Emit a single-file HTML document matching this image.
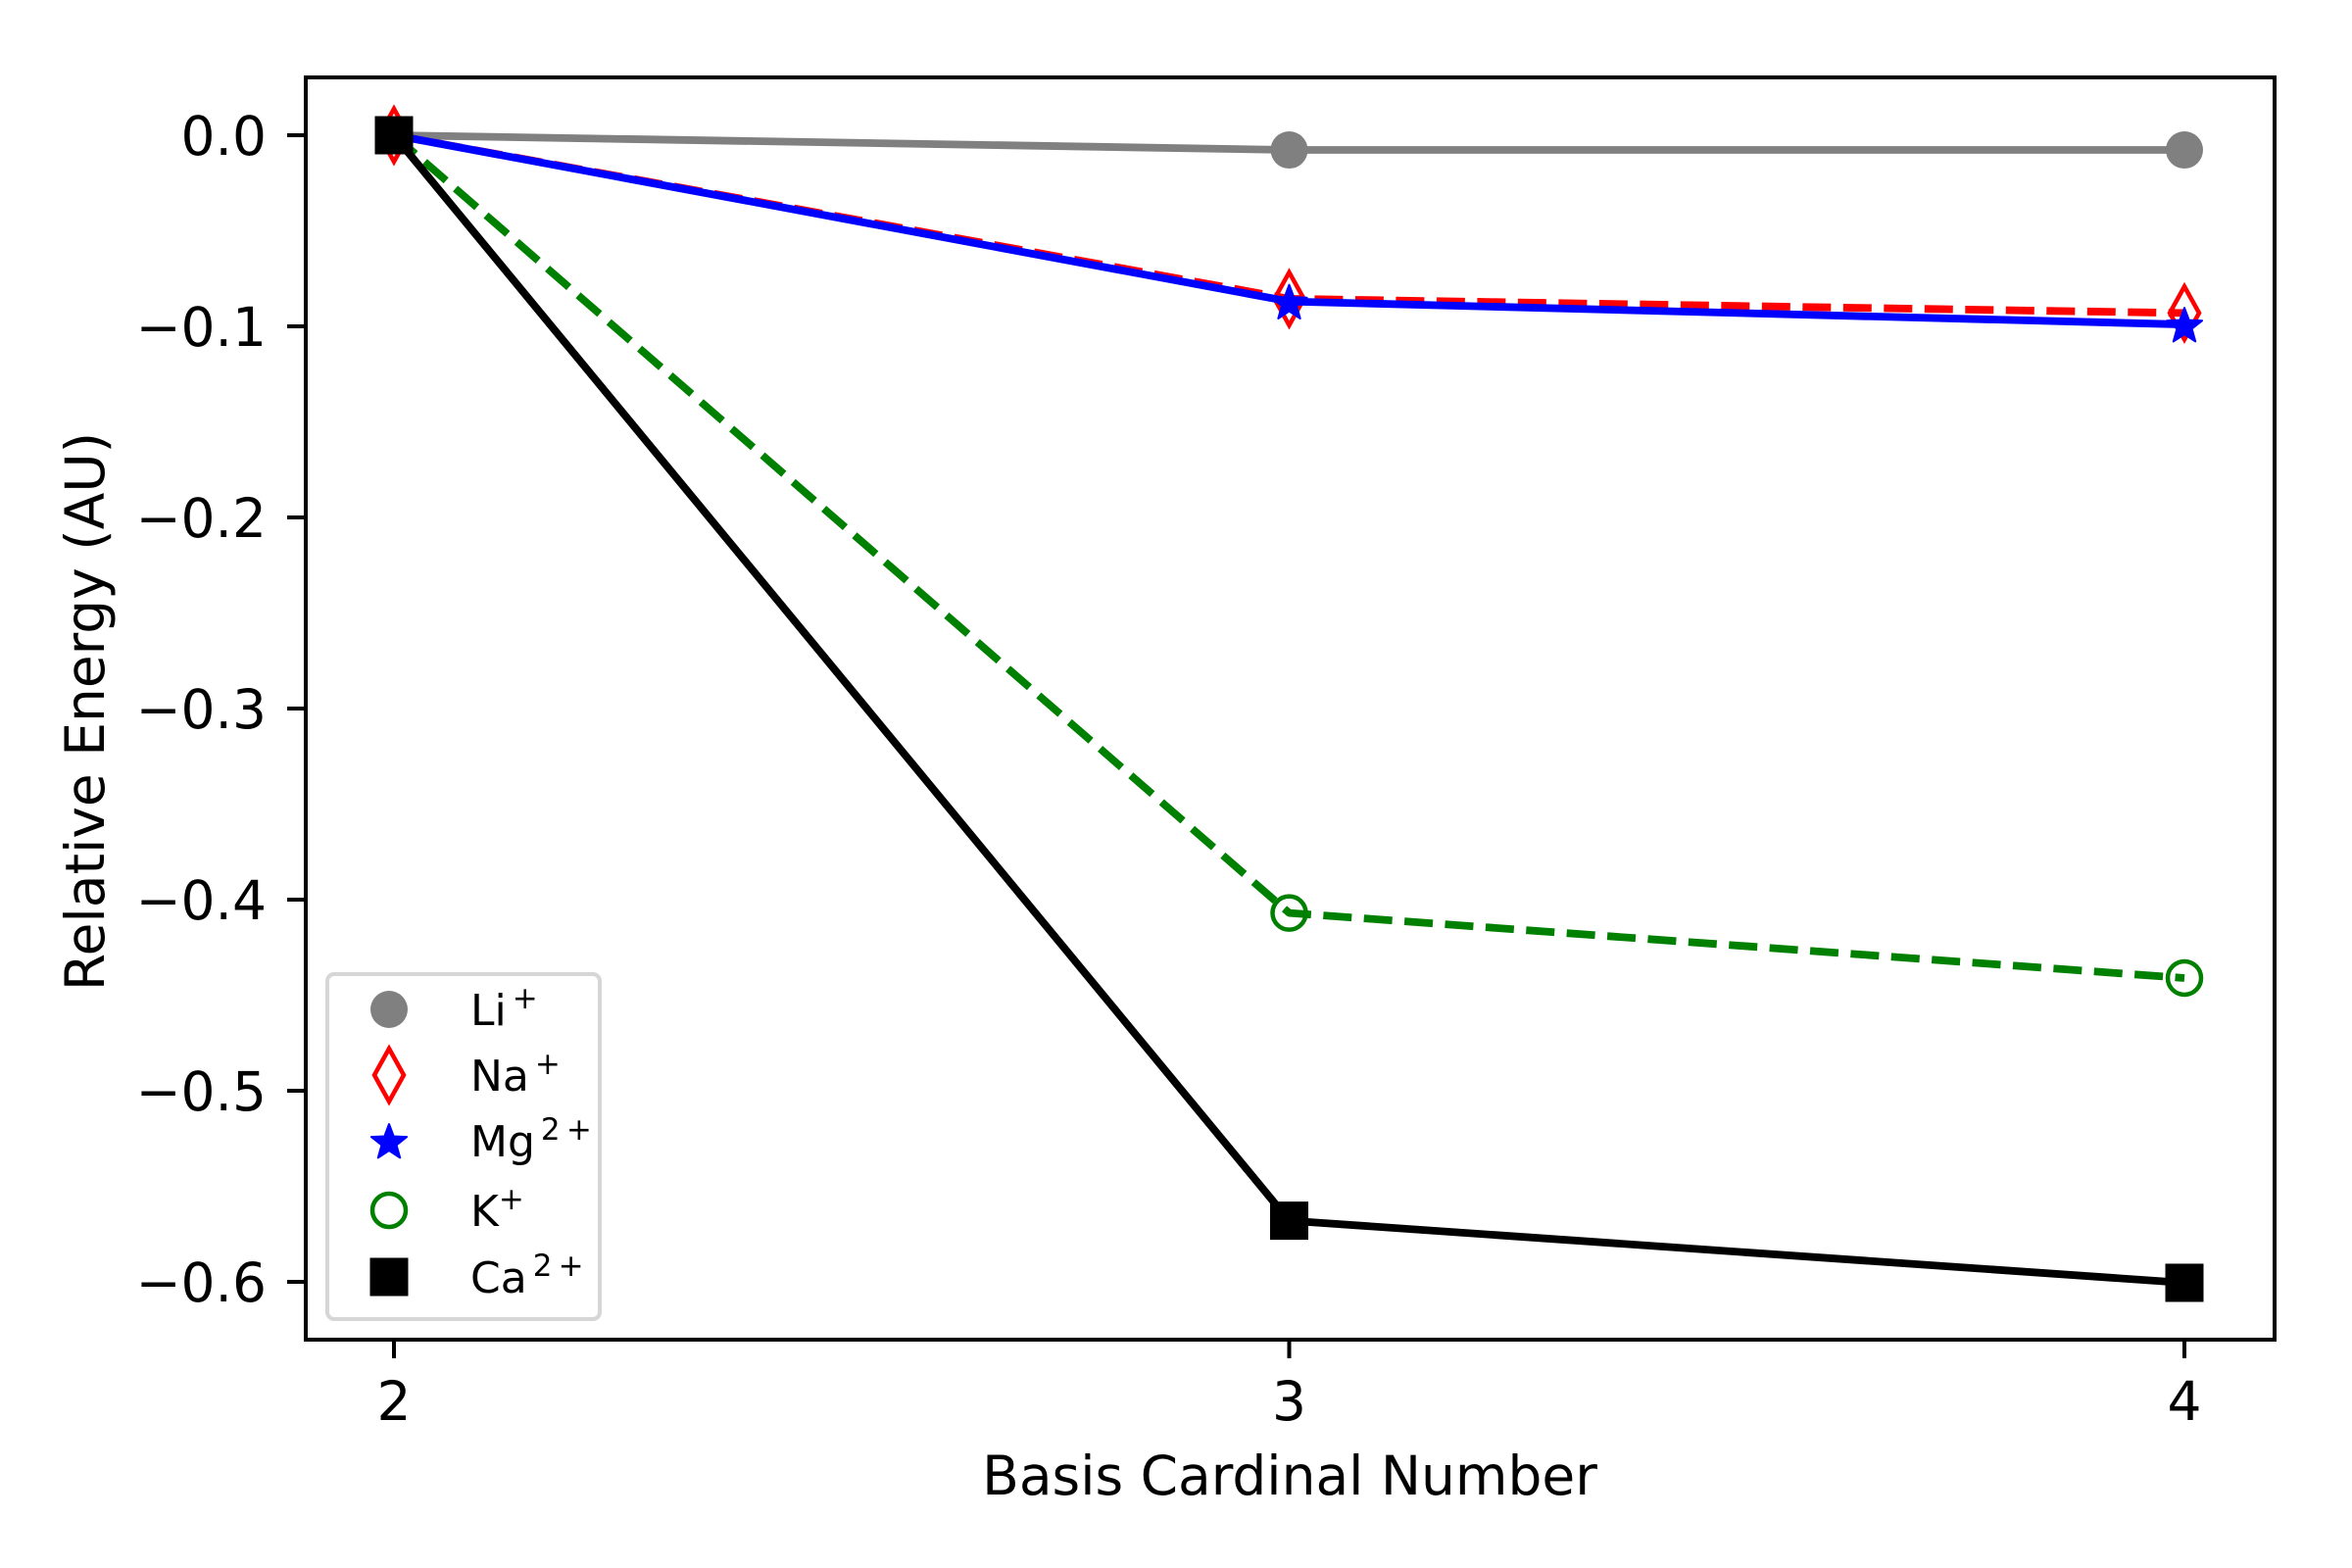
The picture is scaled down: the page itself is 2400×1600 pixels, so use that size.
<!DOCTYPE html>
<html><head><meta charset="utf-8"><style>
html,body{margin:0;padding:0;background:#fff}
svg{display:block}
text{font-family:"DejaVu Sans","Liberation Sans",sans-serif}
</style></head><body>
<svg id="chart" width="2400" height="1600" viewBox="0 0 2400 1600" xmlns="http://www.w3.org/2000/svg">
<rect width="2400" height="1600" fill="#fff"/>
<g id="plot"></g>
<g id="axes"></g>
<g id="legend"></g>
</svg>
<script>
const categories = [2, 3, 4];
const xTicks = [2, 3, 4];
const yTicks = [0.0, -0.1, -0.2, -0.3, -0.4, -0.5, -0.6];
const yTickLabels = ["0.0", "\u22120.1", "\u22120.2", "\u22120.3", "\u22120.4", "\u22120.5", "\u22120.6"];
const liValues = [0, -0.0077, -0.0077];
const naValues = [0, -0.0856, -0.093];
const mgValues = [0, -0.087, -0.099];
const kValues = [0, -0.407, -0.441];
const caValues = [0, -0.568, -0.6005];
const seriesNames = ["Li", "Na", "Mg", "K", "Ca"];
const seriesSups = ["+", "+", "2\u2009+", "+", "2\u2009+"];

const NS = "http://www.w3.org/2000/svg";
const L = 312, R = 2321, T = 79, B = 1367;
function xScale(v){ return 402 + (v - 2) * 913.5; }
function yScale(v){ return 138 - v * 1950; }
function mk(tag, attrs, parent){
  const e = document.createElementNS(NS, tag);
  for (const k in attrs) e.setAttribute(k, attrs[k]);
  parent.appendChild(e);
  return e;
}
const plot = document.getElementById('plot');
const axes = document.getElementById('axes');
const legend = document.getElementById('legend');

const styles = [
  {color:'#808080', dash:null, marker:'circle'},
  {color:'#ff0000', dash:'29 12.5', marker:'thin_diamond'},
  {color:'#0000ff', dash:null, marker:'star'},
  {color:'#008000', dash:'29 12.5', marker:'open_circle'},
  {color:'#000000', dash:null, marker:'square'}
];
const allValues = [liValues, naValues, mgValues, kValues, caValues];

function drawMarker(type, cx, cy, color, parent){
  let m;
  if (type === 'circle') {
    m = mk('circle', {cx:cx, cy:cy, r:19, fill:color}, parent);
  } else if (type === 'open_circle') {
    m = mk('circle', {cx:cx, cy:cy, r:17, fill:'none', stroke:color, 'stroke-width':4.5}, parent);
  } else if (type === 'thin_diamond') {
    m = mk('polygon', {points:`${cx},${cy-27} ${cx+15},${cy} ${cx},${cy+27} ${cx-15},${cy}`, fill:'none', stroke:color, 'stroke-width':4.5}, parent);
  } else if (type === 'star') {
    const pts = [];
    for (let i = 0; i < 10; i++) {
      const r = i % 2 === 0 ? 19 : 8;
      const a = -Math.PI/2 + i * Math.PI/5;
      pts.push((cx + r*Math.cos(a)).toFixed(1) + ',' + (cy + r*Math.sin(a) + 2).toFixed(1));
    }
    m = mk('polygon', {points:pts.join(' '), fill:color, stroke:color, 'stroke-width':2, 'stroke-linejoin':'round'}, parent);
  } else {
    m = mk('rect', {x:cx-19.5, y:cy-19.5, width:39, height:39, fill:color}, parent);
  }
  return m;
}

allValues.forEach((vals, si) => {
  const st = styles[si];
  const g = mk('g', {}, plot);
  
  
  const pts = categories.map((c, i) => xScale(c).toFixed(1) + ',' + yScale(vals[i]).toFixed(1)).join(' ');
  const line = mk('polyline', {points:pts, fill:'none', stroke:st.color, 'stroke-width':7.8, 'stroke-linejoin':'round', 'stroke-linecap': st.dash ? 'butt' : 'square'}, g);
  if (st.dash) line.setAttribute('stroke-dasharray', st.dash);
  
  
  categories.forEach((c, i) => {
    const m = drawMarker(st.marker, xScale(c), yScale(vals[i]), st.color, g);
    
    
  });
});

const frame = mk('rect', {x:L, y:T, width:R-L, height:B-T, fill:'none', stroke:'#000', 'stroke-width':4}, axes);



xTicks.forEach(v => {
  const x = xScale(v);
  const t = mk('line', {x1:x, y1:B, x2:x, y2:B+19, stroke:'#000', 'stroke-width':4}, axes);
  
  
  const tx = mk('text', {x:x, y:1449, 'font-size':55, 'text-anchor':'middle'}, axes);
  tx.textContent = String(v);
  
  
});
yTicks.forEach((v, i) => {
  const y = yScale(v);
  const t = mk('line', {x1:L-19, y1:y, x2:L, y2:y, stroke:'#000', 'stroke-width':4}, axes);
  
  
  const tx = mk('text', {x:272, y:y+20, 'font-size':55, 'text-anchor':'end'}, axes);
  tx.textContent = yTickLabels[i];
  
  
});
const xl = mk('text', {x:1316, y:1525, 'font-size':55, 'text-anchor':'middle'}, axes);
xl.textContent = 'Basis Cardinal Number';


const yl = mk('text', {x:0, y:0, 'font-size':55, 'text-anchor':'middle', transform:'translate(106,726) rotate(-90)'}, axes);
yl.textContent = 'Relative Energy (AU)';



const lb = mk('rect', {x:334, y:994, width:278, height:352, rx:7, fill:'#fff', 'fill-opacity':0.8, stroke:'#d6d6d6', 'stroke-width':4}, legend);


const rowY = [1030, 1097, 1164, 1235, 1303];
seriesNames.forEach((n, i) => {
  const g = mk('g', {}, legend);
  
  
  drawMarker(styles[i].marker, 397, rowY[i], styles[i].color, g);
  const t = mk('text', {x:480, y:rowY[i]+16, 'font-size':44}, g);
  const base = document.createElementNS(NS, 'tspan');
  base.textContent = n;
  t.appendChild(base);
  const sup = document.createElementNS(NS, 'tspan');
  sup.setAttribute('dy', '-17');
  sup.setAttribute('dx', n === 'K' ? '0' : '6');
  sup.setAttribute('font-size', '31');
  sup.textContent = seriesSups[i];
  t.appendChild(sup);
});
</script>
</body></html>
